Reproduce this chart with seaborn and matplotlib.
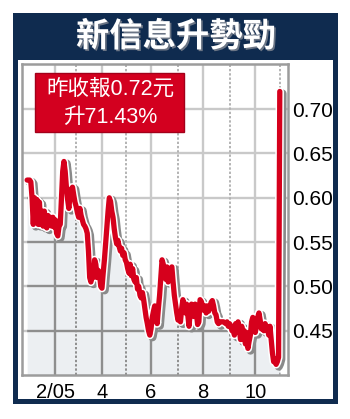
import numpy as np
import pandas as pd
import matplotlib
matplotlib.use("Agg")
import matplotlib.pyplot as plt
import matplotlib.patheffects as pe
from matplotlib.patches import Rectangle
import seaborn as sns

# ---------------- data (daily closes, HK$) ----------------
december = [0.620, 0.620]
january = [0.620, 0.618, 0.600, 0.570, 0.600, 0.575, 0.598, 0.570, 0.595, 0.570, 0.585,
           0.568, 0.585, 0.572, 0.566, 0.580, 0.570, 0.578, 0.568, 0.578, 0.567]
february = [0.575, 0.560, 0.557, 0.568, 0.570, 0.600, 0.630, 0.641, 0.630, 0.612, 0.598,
            0.588, 0.603, 0.610, 0.612, 0.603, 0.595]
march = [0.590, 0.583, 0.578, 0.588, 0.580, 0.575, 0.570, 0.568, 0.565, 0.560, 0.540,
         0.510, 0.505, 0.520, 0.510, 0.530, 0.525, 0.510, 0.518, 0.515, 0.500]
april = [0.498, 0.515, 0.530, 0.548, 0.565, 0.585, 0.600, 0.596, 0.585, 0.578, 0.565,
         0.555, 0.548, 0.552, 0.545, 0.540, 0.543, 0.535, 0.538, 0.530]
may = [0.527, 0.520, 0.515, 0.525, 0.512, 0.520, 0.508, 0.505, 0.510, 0.497, 0.500,
       0.490, 0.487, 0.493, 0.485, 0.475, 0.465, 0.458, 0.450, 0.445]
june = [0.452, 0.465, 0.472, 0.478, 0.468, 0.458, 0.475, 0.490, 0.510, 0.530, 0.525,
        0.515, 0.508, 0.522, 0.505, 0.512, 0.520, 0.522, 0.505, 0.490, 0.480, 0.470]
july = [0.462, 0.466, 0.460, 0.475, 0.485, 0.478, 0.470, 0.480, 0.468, 0.455, 0.472,
        0.480, 0.475, 0.466, 0.480, 0.470, 0.457, 0.460, 0.485, 0.483]
august = [0.478, 0.473, 0.478, 0.470, 0.478, 0.472, 0.476, 0.482, 0.484, 0.478, 0.470,
          0.468, 0.460, 0.458, 0.460, 0.460, 0.460, 0.460, 0.459, 0.458, 0.460, 0.455]
september = [0.458, 0.455, 0.450, 0.455, 0.445, 0.458, 0.448, 0.460, 0.452, 0.440, 0.455,
             0.440, 0.450, 0.435, 0.448, 0.430, 0.438, 0.445, 0.460, 0.465, 0.462]
october = [0.448, 0.455, 0.465, 0.470, 0.462, 0.452, 0.455, 0.450, 0.458, 0.455, 0.452,
           0.445, 0.455, 0.440, 0.425, 0.415, 0.418, 0.412, 0.415, 0.420]
november = [0.720]

month_labels = ["1", "2/05", "3", "4", "5", "6", "7", "8", "9", "10", "11"]
labeled_months = ["2/05", "4", "6", "8", "10"]
y_ticks = [0.45, 0.50, 0.55, 0.60, 0.65, 0.70]
y_labels = ["0.45", "0.50", "0.55", "0.60", "0.65", "0.70"]
title_text = "新信息升勢勁"
note_text = ["昨收報0.72元", "升71.43%"]

# ---------------- build table ----------------
months = [january, february, march, april, may, june, july, august,
          september, october, november]
values = list(december)
for m in months:
    values += m
x_idx = np.arange(len(values)) - len(december)
df = pd.DataFrame({"day": x_idx, "price": values})
starts = np.cumsum([0] + [len(m) for m in months[:-1]])
month_pos = dict(zip(month_labels, starts))

# ---------------- styling ----------------
NAVY = "#0f2b4f"
RED = "#d6001c"
FILL = "#eceff2"
GRID_LIGHT = "#c9c9c9"
GRID_DARK = "#8e8e8e"
BORDER = "#9c9c9c"
LAT = ["Liberation Sans", "Noto Sans CJK TC", "DejaVu Sans"]

sns.set_style("white")
plt.rcParams["font.family"] = LAT

W, H = 350, 419
fig = plt.figure(figsize=(W / 100, H / 100), dpi=100)

def fx(px):
    return px / W

def fy(py):
    return 1 - py / H

# frame
fig.patches.append(Rectangle((fx(13), fy(404)), (338 - 13) / W, (404 - 13) / H,
                             transform=fig.transFigure, facecolor=NAVY,
                             edgecolor="none", zorder=-3))
fig.patches.append(Rectangle((fx(18), fy(399)), (333 - 18) / W, (399 - 60) / H,
                             transform=fig.transFigure, facecolor="white",
                             edgecolor="none", zorder=-2))
fig.text(fx(176), fy(37), title_text, color="white", fontsize=24, fontweight="heavy",
         family=["Noto Sans CJK TC"], ha="center", va="center",
         path_effects=[pe.withSimplePatchShadow(offset=(1.2, -1.2),
                                                shadow_rgbFace="#6b7585", alpha=1)])

ax = fig.add_axes([fx(22), fy(375), (288 - 22) / W, (375 - 64) / H])
ax.set_zorder(1)
ax.set_facecolor("white")
xmin, xmax = -6.2, 210.7
ymin, ymax = 0.40, 0.751

# light grid (above the fill area)
for yv in y_ticks:
    ax.axhline(yv, color=GRID_LIGHT, lw=1.7, zorder=0.5)
for lab in labeled_months:
    ax.axvline(month_pos[lab], color=GRID_LIGHT, lw=1.7, zorder=0.5)
odd_months = [m for m in month_labels if m not in labeled_months and m != "1"]
for lab in odd_months:
    ax.axvline(month_pos[lab], color="#b3b3b3", lw=1.4, ls=(0, (1.2, 1.0)), zorder=0.5)

# area under the line
poly = ax.fill_between(df["day"], df["price"], ymin, color=FILL, lw=0, zorder=1)
clip_path = poly.get_paths()[0]

# dark grid clipped to the area
for yv in y_ticks:
    l = ax.axhline(yv, color=GRID_DARK, lw=1.7, zorder=1.5)
    l.set_clip_path(clip_path, ax.transData)
for lab in labeled_months:
    l = ax.axvline(month_pos[lab], color=GRID_DARK, lw=1.7, zorder=1.5)
    l.set_clip_path(clip_path, ax.transData)
for lab in odd_months:
    l = ax.axvline(month_pos[lab], color=GRID_DARK, lw=1.4, ls=(0, (1.2, 1.0)), zorder=1.5)
    l.set_clip_path(clip_path, ax.transData)

sns.lineplot(data=df, x="day", y="price", ax=ax, color=RED, linewidth=3.8,
             zorder=3, legend=False)
line = ax.lines[-1]
line.set_solid_joinstyle("round")
line.set_solid_capstyle("round")
line.set_path_effects([
    pe.SimpleLineShadow(offset=(1.9, -1.5), shadow_color="#8a8a8a", alpha=1, linewidth=6.0),
    pe.Stroke(linewidth=6.0, foreground="white"),
    pe.Normal(),
])

ax.set_xlim(xmin, xmax)
ax.set_ylim(ymin, ymax)
ax.set_xticks([month_pos[l] for l in labeled_months])
ax.set_xticklabels(labeled_months, fontsize=14.5, color="black")
ax.yaxis.tick_right()
ax.set_yticks(y_ticks)
ax.set_yticklabels(y_labels, fontsize=15, color="black")
ax.tick_params(axis="both", length=0)
ax.tick_params(axis="x", pad=5.5)
ax.tick_params(axis="y", pad=3)
ax.set_xlabel("")
ax.set_ylabel("")
for s in ax.spines.values():
    s.set_visible(True)
    s.set_color(BORDER)
    s.set_linewidth(1.8)
    s.set_zorder(4)

# annotation box
fig.patches.append(Rectangle((fx(35), fy(132)), (184 - 35) / W, (132 - 73) / H,
                             transform=fig.transFigure, facecolor="#d3001f",
                             edgecolor="#a3001a", lw=1.0, zorder=5))
fig.text(fx(110), fy(89), note_text[0], color="white", fontsize=15.5,
         family=LAT, ha="center", va="center", zorder=6)
fig.text(fx(110), fy(117), note_text[1], color="white", fontsize=15.5,
         family=LAT, ha="center", va="center", zorder=6)

fig.savefig("out.png", dpi=100, facecolor="white")
